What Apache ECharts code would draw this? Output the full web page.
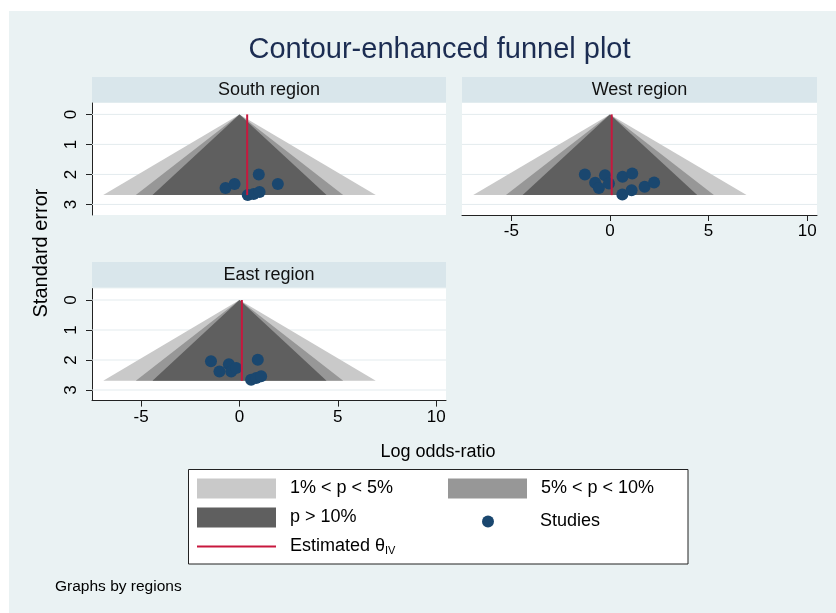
<!DOCTYPE html>
<html><head><meta charset="utf-8">
<script src="https://cdn.jsdelivr.net/npm/echarts@6/dist/echarts.min.js"></script>
<style>html,body{margin:0;padding:0;background:#fff}#c{width:836px;height:613px}</style>
</head><body><div id="c"></div>
<script>
// ---- data ----
const panels = ['South region', 'West region', 'East region'];
const thetaIV = [0.39, 0.09, 0.12];
const southX  = [-0.71, -0.25, 0.98, 1.95, 0.42, 0.72, 1.02];
const southSE = [2.45, 2.32, 2.00, 2.32, 2.69, 2.65, 2.59];
const westX   = [-1.27, -0.75, -0.25, -0.56, -0.05, 0.64, 1.13, 1.76, 2.24, 0.63, 1.10];
const westSE  = [2.00, 2.28, 2.03, 2.45, 2.30, 2.08, 1.97, 2.41, 2.27, 2.67, 2.53];
const eastX   = [-1.45, -1.02, -0.54, -0.42, -0.17, 0.93, 0.59, 0.85, 1.10];
const eastSE  = [2.04, 2.38, 2.14, 2.38, 2.27, 1.99, 2.66, 2.60, 2.54];
const contourNames = ['1% < p < 5%', '5% < p < 10%', 'p > 10%'];
const contourZ = [2.576, 1.960, 1.645];
const seMax = 2.69;
const xMin = -7.5, xMax = 10.5;
const xTicks = [-5, 0, 5, 10];
const yTicks = [0, 1, 2, 3];
const studyName = 'Studies';
const thetaName = 'Estimated θIV';

// ---- styles ----
const F = "'Liberation Sans', Arial, Helvetica, sans-serif";
const contourColors = ['#c9c9c9', '#979797', '#5f5f5f'];
const dotColor = '#1a476f';
const lineColor = '#c8183e';
const grids = [
  {left: 92, top: 103, width: 354, height: 112},
  {left: 462, top: 103, width: 355, height: 112},
  {left: 92, top: 288.6, width: 354, height: 112}
];
const showX = [false, true, true];
const showY = [true, false, true];
const pts = [[southX, southSE], [westX, westSE], [eastX, eastSE]];

const xAxes = [], yAxes = [], series = [];
grids.forEach((g, i) => {
  xAxes.push({
    type: 'value', gridIndex: i, min: xMin, max: xMax,
    axisLine: {show: showX[i], onZero: false, lineStyle: {color: '#222', width: 1}},
    axisTick: {show: showX[i], customValues: xTicks, length: 6, lineStyle: {color: '#222'}},
    axisLabel: {show: showX[i], customValues: xTicks, margin: 8, fontSize: 17, color: '#000', fontFamily: F},
    splitLine: {show: false}
  });
  yAxes.push({
    type: 'value', gridIndex: i, inverse: true, min: -0.38, max: 3.353,
    axisLine: {show: showY[i], onZero: false, lineStyle: {color: '#222', width: 1}},
    axisTick: {show: showY[i], customValues: yTicks, length: 6, lineStyle: {color: '#222'}},
    axisLabel: {show: showY[i], customValues: yTicks, rotate: 90, margin: 12, fontSize: 17, color: '#000', fontFamily: F},
    splitLine: {show: false}
  });
  // horizontal gridlines beneath the contours
  yTicks.forEach(v => {
    series.push({
      type: 'line', xAxisIndex: i, yAxisIndex: i, silent: true, z: 1, symbol: 'none',
      lineStyle: {color: '#e3ebee', width: 1}, data: [[xMin, v], [xMax, v]]
    });
  });
  contourZ.forEach((z, k) => {
    series.push({
      type: 'custom', name: contourNames[k], xAxisIndex: i, yAxisIndex: i, z: 2,
      itemStyle: {color: contourColors[k]}, silent: true,
      data: [[z, seMax]],
      renderItem: (params, api) => {
        const zz = api.value(0), s = api.value(1);
        const a = api.coord([-zz * s, s]), b = api.coord([0, 0]), c = api.coord([zz * s, s]);
        return {type: 'polygon', shape: {points: [a, b, c]}, style: {fill: contourColors[k]}};
      }
    });
  });
  series.push({
    type: 'scatter', name: studyName, xAxisIndex: i, yAxisIndex: i, z: 6,
    symbolSize: 12, itemStyle: {color: dotColor, opacity: 1},
    data: pts[i][0].map((x, j) => [x, pts[i][1][j]])
  });
  series.push({
    type: 'line', name: thetaName, xAxisIndex: i, yAxisIndex: i, z: 7,
    symbol: 'none', lineStyle: {color: lineColor, width: 2},
    itemStyle: {color: lineColor},
    data: [[thetaIV[i], 0], [thetaIV[i], seMax]]
  });
});

function lg(name, left, top, icon, w, h, pad, color) {
  const d = {name: name, icon: icon};
  if (color) d.itemStyle = {color: color};
  return {
    show: true, selectedMode: false, orient: 'horizontal', left: left, top: top, padding: 0,
    itemWidth: w, itemHeight: h, data: [d], z: 10, symbolKeepAspect: true,
    formatter: n => n === thetaName ? 'Estimated θ{sub|IV}' : n,
    textStyle: {fontSize: 18, color: '#000', fontFamily: F, padding: [0, 0, 0, pad],
      rich: {sub: {fontSize: 11, fontFamily: F, color: '#000', padding: [8, 0, 0, 0]}}}
  };
}
const legends = [
  lg(contourNames[0], 197, 478.5, 'rect', 79, 20, 9),
  lg(contourNames[1], 448, 478.5, 'rect', 79, 20, 9),
  lg(contourNames[2], 197, 507.5, 'rect', 79, 20, 9),
  lg(studyName, 482, 512.5, 'circle', 12, 12, 41),
  lg(thetaName, 197, 537.5, 'path://M0,0 L79,0 L79,2 L0,2 Z', 79, 20, 9, lineColor)
];

const graphic = [
  {type: 'rect', z: -20, shape: {x: 9, y: 11, width: 827, height: 602}, style: {fill: '#eaf2f3'}},
  {type: 'rect', z: -15, shape: {x: 92, y: 77, width: 354, height: 25.5}, style: {fill: '#d9e6eb'}},
  {type: 'rect', z: -15, shape: {x: 462, y: 77, width: 355, height: 25.5}, style: {fill: '#d9e6eb'}},
  {type: 'rect', z: -15, shape: {x: 92, y: 262, width: 354, height: 25.5}, style: {fill: '#d9e6eb'}},
  {type: 'text', z: -10, x: 269, y: 90, style: {text: panels[0], fontSize: 18, fontFamily: F, fill: '#111', align: 'center', verticalAlign: 'middle'}},
  {type: 'text', z: -10, x: 639.5, y: 90, style: {text: panels[1], fontSize: 18, fontFamily: F, fill: '#111', align: 'center', verticalAlign: 'middle'}},
  {type: 'text', z: -10, x: 269, y: 275, style: {text: panels[2], fontSize: 18, fontFamily: F, fill: '#111', align: 'center', verticalAlign: 'middle'}},
  {type: 'text', z: 5, x: 439.5, y: 50, style: {text: 'Contour-enhanced funnel plot', fontSize: 29, fontFamily: F, fill: '#1c2d52', align: 'center', verticalAlign: 'middle'}},
  {type: 'text', z: 5, x: 438, y: 452, style: {text: 'Log odds-ratio', fontSize: 18, fontFamily: F, fill: '#000', align: 'center', verticalAlign: 'middle'}},
  {type: 'text', z: 5, x: 41, y: 253, rotation: Math.PI / 2, style: {text: 'Standard error', fontSize: 20, fontFamily: F, fill: '#000', align: 'center', verticalAlign: 'middle'}},
  {type: 'text', z: 5, x: 55, y: 587, style: {text: 'Graphs by regions', fontSize: 15.5, fontFamily: F, fill: '#000', align: 'left', verticalAlign: 'middle'}},
  {type: 'rect', z: -15, shape: {x: 188.5, y: 469.5, width: 499.5, height: 94.5}, style: {fill: '#ffffff', stroke: '#222', lineWidth: 1}}
];

const chart = echarts.init(document.getElementById('c'), null, {renderer: 'canvas'});
chart.setOption({
  animation: false,
  backgroundColor: '#ffffff',
  grid: grids.map(g => Object.assign({show: true, backgroundColor: '#ffffff', borderWidth: 0, containLabel: false}, g)),
  xAxis: xAxes, yAxis: yAxes, series: series, legend: legends, graphic: graphic
});
</script></body></html>
